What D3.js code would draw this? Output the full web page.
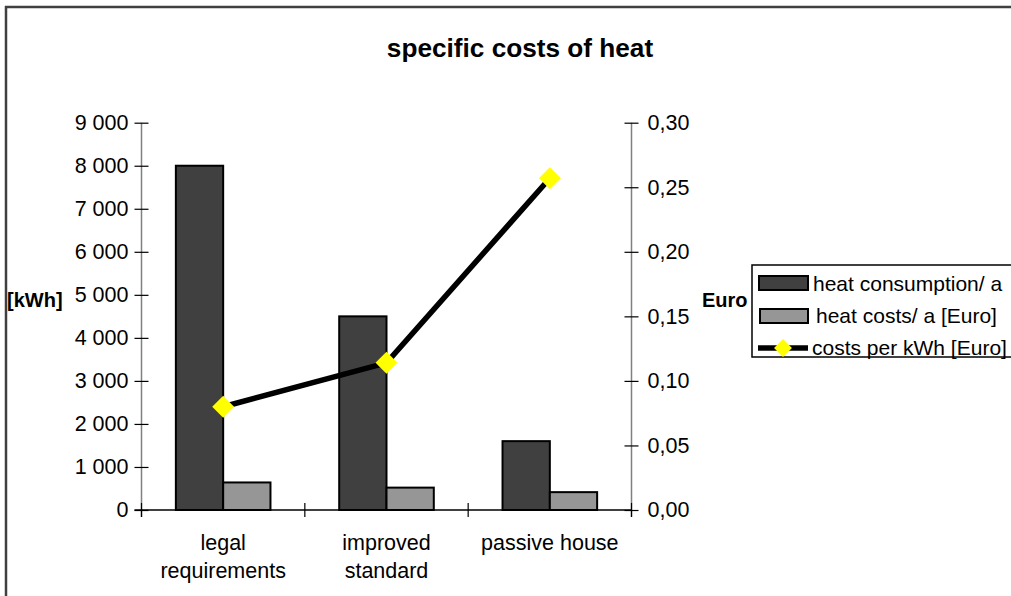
<!DOCTYPE html>
<html><head><meta charset="utf-8">
<script src="https://cdn.jsdelivr.net/npm/d3@7"></script>
<style>body{margin:0;background:#fff}svg{display:block}text{font-family:"Liberation Sans",Arial,sans-serif}</style>
</head><body>
<svg id="c" width="1011" height="596"></svg>
<script>
const categories = ["legal requirements", "improved standard", "passive house"];
const categoryLines = [["legal", "requirements"], ["improved", "standard"], ["passive house"]];
const heatConsumption = [8000, 4500, 1600];
const heatCosts = [640, 520, 415];
const costPerKwh = [0.080, 0.114, 0.257];
const leftTicks = [0, 1000, 2000, 3000, 4000, 5000, 6000, 7000, 8000, 9000];
const rightTicks = [0, 0.05, 0.10, 0.15, 0.20, 0.25, 0.30];
const seriesNames = ["heat consumption/ a", "heat costs/ a [Euro]", "costs per kWh [Euro]"];

const svg = d3.select("#c");
const L = 141.5, R = 631.5, T = 122.7, B = 510;
const FS = 21.5;
const x = d3.scaleBand().domain(categories).range([L, R]).padding(0);
const yL = d3.scaleLinear().domain([0, 9000]).range([B, T]);
const yR = d3.scaleLinear().domain([0, 0.30]).range([B, T]);

// frame
svg.append("line").attr("x1", 6).attr("x2", 6).attr("y1", 6).attr("y2", 596).attr("stroke", "#404040").attr("stroke-width", 2.5);
svg.append("line").attr("x1", 5).attr("x2", 1011).attr("y1", 7).attr("y2", 7).attr("stroke", "#404040").attr("stroke-width", 2.5);

// title
svg.append("text").attr("x", 520).attr("y", 57).attr("text-anchor", "middle")
  .attr("font-size", 26.2).attr("font-weight", "bold").text("specific costs of heat");

// bars
const bw = 47.3;
const g = svg.append("g");
categories.forEach((c, i) => {
  const cx = x(c) + x.bandwidth() / 2;
  g.append("rect").attr("x", cx - bw).attr("y", yL(heatConsumption[i])).attr("width", bw)
    .attr("height", B - yL(heatConsumption[i])).attr("fill", "#404040").attr("stroke", "#000").attr("stroke-width", 2);
  g.append("rect").attr("x", cx).attr("y", yL(heatCosts[i])).attr("width", bw)
    .attr("height", B - yL(heatCosts[i])).attr("fill", "#969696").attr("stroke", "#000").attr("stroke-width", 2);
});

// left axis
const axL = svg.append("g").attr("transform", `translate(${L},0)`)
  .call(d3.axisLeft(yL).tickValues(leftTicks).tickSizeInner(7).tickSizeOuter(0).tickPadding(6)
    .tickFormat(d => d3.format(",")(d).replace(/,/g, " ")));
axL.select(".domain").attr("stroke", "#808080").attr("stroke-width", 1.5).attr("d", `M0,${T}V${B + 7}`);
axL.selectAll(".tick line").attr("x1", -7).attr("x2", 7).attr("stroke", "#000").attr("stroke-width", 1.2);
axL.selectAll(".tick text").attr("font-size", FS).attr("fill", "#000").attr("font-family", "Liberation Sans, Arial, sans-serif");

// right axis
const axR = svg.append("g").attr("transform", `translate(${R},0)`)
  .call(d3.axisRight(yR).tickValues(rightTicks).tickSizeInner(7).tickSizeOuter(0).tickPadding(9)
    .tickFormat(d => d3.format(".2f")(d).replace(".", ",")));
axR.select(".domain").attr("stroke", "#808080").attr("stroke-width", 1.5).attr("d", `M0,${T}V${B + 7}`);
axR.selectAll(".tick line").attr("x1", -7).attr("x2", 7).attr("stroke", "#000").attr("stroke-width", 1.2);
axR.selectAll(".tick text").attr("font-size", FS).attr("fill", "#000").attr("font-family", "Liberation Sans, Arial, sans-serif");

// x axis
const axX = svg.append("g").attr("transform", `translate(0,${B})`)
  .call(d3.axisBottom(x).tickSize(0).tickFormat(""));
axX.select(".domain").attr("stroke", "#000").attr("stroke-width", 1.5).attr("d", `M${L - 7},0H${R}`);
const bounds = categories.map(c => x(c)).concat([R]);
axX.selectAll(".bnd").data(bounds).enter().append("line").attr("class", "bnd")
  .attr("x1", d => d).attr("x2", d => d).attr("y1", -7).attr("y2", 7).attr("stroke", "#000").attr("stroke-width", 1.2);
categories.forEach((c, i) => {
  const t = svg.append("text").attr("text-anchor", "middle").attr("font-size", FS)
    .attr("x", x(c) + x.bandwidth() / 2).attr("y", 550);
  categoryLines[i].forEach((ln, j) => t.append("tspan").attr("x", x(c) + x.bandwidth() / 2).attr("dy", j ? 28 : 0).text(ln));
});

// axis titles
svg.append("text").attr("x", 7).attr("y", 307).attr("font-size", 20).attr("font-weight", "bold").text("[kWh]");
svg.append("text").attr("x", 702).attr("y", 307).attr("font-size", 20).attr("font-weight", "bold").text("Euro");

// line
const line = d3.line().x((d, i) => x(categories[i]) + x.bandwidth() / 2).y(d => yR(d));
svg.append("path").datum(costPerKwh).attr("d", line).attr("fill", "none").attr("stroke", "#000").attr("stroke-width", 5.5);
svg.selectAll(".pt").data(costPerKwh).enter().append("path").attr("class", "pt")
  .attr("d", d3.symbol().type(d3.symbolSquare).size(240))
  .attr("transform", (d, i) => `translate(${x(categories[i]) + x.bandwidth() / 2},${yR(d)}) rotate(45)`)
  .attr("fill", "#ffff00");

// legend
const lg = svg.append("g");
lg.append("rect").attr("x", 752).attr("y", 265).attr("width", 300).attr("height", 92).attr("fill", "#fff").attr("stroke", "#000").attr("stroke-width", 1.5);
lg.append("rect").attr("x", 759).attr("y", 276).attr("width", 49).attr("height", 14).attr("fill", "#404040").attr("stroke", "#000").attr("stroke-width", 2);
lg.append("rect").attr("x", 760).attr("y", 309).attr("width", 48).attr("height", 14).attr("fill", "#969696").attr("stroke", "#000").attr("stroke-width", 2);
lg.append("line").attr("x1", 758).attr("x2", 808).attr("y1", 348).attr("y2", 348).attr("stroke", "#000").attr("stroke-width", 5.5);
lg.append("path").attr("d", d3.symbol().type(d3.symbolSquare).size(160)).attr("transform", "translate(783,348) rotate(45)").attr("fill", "#ffff00");
const ly = [291, 323, 355], lx = [813, 816, 812];
seriesNames.forEach((s, i) => lg.append("text").attr("x", lx[i]).attr("y", ly[i]).attr("font-size", 21).text(s));
</script>
</body></html>
